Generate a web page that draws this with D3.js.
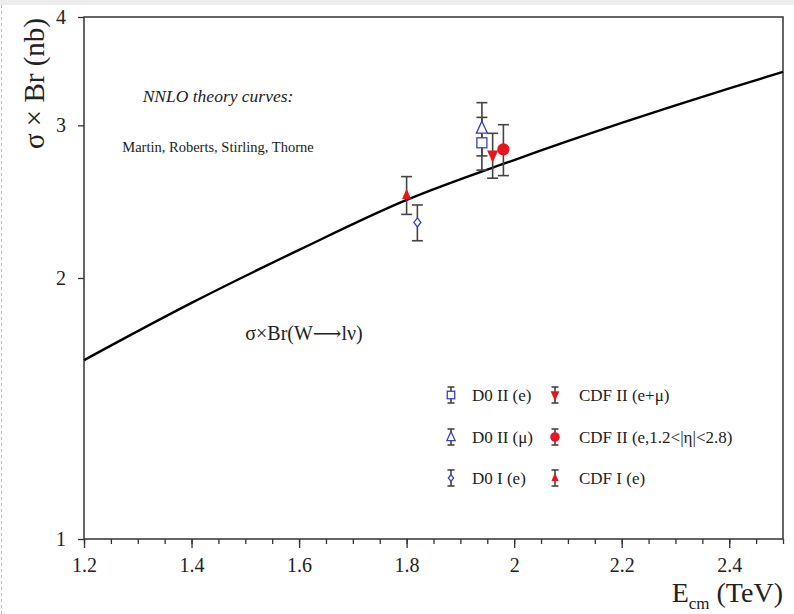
<!DOCTYPE html>
<html>
<head>
<meta charset="utf-8">
<script src="https://cdn.jsdelivr.net/npm/d3@7"></script>
<style>
  body { margin: 0; background: #fff; }
  svg text { font-family: "Liberation Serif", "DejaVu Serif", serif; fill: #222; }
</style>
</head>
<body>
<div id="chart"></div>
<script>
// theory curve (NNLO, MRST)
var curveEnergy = [1.2, 1.4, 1.6, 1.8, 2.0, 2.2, 2.4, 2.5];
var curveSigma  = [1.608, 1.872, 2.155, 2.461, 2.736, 3.019, 3.31, 3.458];

// measurements
var pointLabels = ['D0 II (e)', 'D0 II (\u03bc)', 'D0 I (e)', 'CDF II (e+\u03bc)', 'CDF II (e,1.2<|\u03b7|<2.8)', 'CDF I (e)'];
var pointEnergy = [1.94, 1.94, 1.82, 1.96, 1.98, 1.80];
var pointSigma  = [2.864, 2.976, 2.318, 2.772, 2.815, 2.493];
var pointError  = [0.20, 0.21, 0.11, 0.165, 0.19, 0.125];

var xMajorTicks = [1.2, 1.4, 1.6, 1.8, 2.0, 2.2, 2.4];
var yTicks = [1, 2, 3, 4];

var width = 794, height = 614;
var margin = {top: 17, right: 11, bottom: 75, left: 84};
var serif = '"Liberation Serif", "DejaVu Serif", serif';

var svg = d3.select('#chart').append('svg')
  .attr('width', width)
  .attr('height', height);

// page decorations
svg.append('rect').attr('x', 0).attr('y', 0).attr('width', width).attr('height', 5).attr('fill', '#ececec');
svg.append('line').attr('x1', 1.5).attr('x2', 1.5).attr('y1', 5).attr('y2', height)
  .attr('stroke', '#bbb').attr('stroke-dasharray', '3,3');

var x = d3.scaleLinear().domain([1.2, 2.5]).range([margin.left, width - margin.right]);
var y = d3.scaleLog().domain([1, 4]).range([height - margin.bottom, margin.top]);

// minor x ticks every 0.05
var xMinor = d3.range(0, 27).map(function(i) { return +(1.2 + i * 0.05).toFixed(2); });

svg.append('g')
  .attr('transform', 'translate(0,' + y(1) + ')')
  .call(d3.axisBottom(x).tickValues(xMinor).tickSize(5).tickFormat(''))
  .call(function(g) { g.select('.domain').remove(); })
  .selectAll('line').attr('stroke', '#333').attr('stroke-width', 1.3);

svg.append('g')
  .attr('class', 'xaxis')
  .attr('transform', 'translate(0,' + y(1) + ')')
  .call(d3.axisBottom(x).tickValues(xMajorTicks).tickSize(9).tickPadding(10)
    .tickFormat(function(d) { return String(+d.toFixed(2)); }))
  .attr('font-family', serif)
  .call(function(g) { g.select('.domain').remove(); })
  .call(function(g) {
    g.selectAll('line').attr('stroke', '#333').attr('stroke-width', 1.3);
    g.selectAll('text').style('font-size', '20px').style('font-family', serif).attr('fill', '#222');
  });

svg.append('g')
  .attr('transform', 'translate(' + margin.left + ',0)')
  .call(d3.axisLeft(y).tickValues(yTicks).tickSize(6).tickPadding(12).tickFormat(d3.format('d')))
  .attr('font-family', serif)
  .call(function(g) { g.select('.domain').remove(); })
  .call(function(g) {
    g.selectAll('line').attr('stroke', '#333').attr('stroke-width', 1.3);
    g.selectAll('text').style('font-size', '20px').style('font-family', serif).attr('fill', '#222');
  });

// frame
svg.append('rect')
  .attr('x', x(1.2)).attr('y', y(4))
  .attr('width', x(2.5) - x(1.2)).attr('height', y(1) - y(4))
  .attr('fill', 'none').attr('stroke', '#333').attr('stroke-width', 1.5);

// theory curve
var curveData = curveEnergy.map(function(e, i) { return {e: e, s: curveSigma[i]}; });
var line = d3.line()
  .x(function(d) { return x(d.e); })
  .y(function(d) { return y(d.s); })
  .curve(d3.curveMonotoneX);

svg.append('path')
  .datum(curveData)
  .attr('d', line)
  .attr('fill', 'none')
  .attr('stroke', '#000')
  .attr('stroke-width', 2.4);

// marker styles
var blue = '#3d3dbf', red = '#e8141e';
var markerStyle = [
  {shape: 'square',   color: blue, filled: false},
  {shape: 'triangle', color: blue, filled: false},
  {shape: 'diamond',  color: blue, filled: false},
  {shape: 'tridown',  color: red,  filled: true},
  {shape: 'circle',   color: red,  filled: true},
  {shape: 'triangle', color: red,  filled: true, small: true}
];

function drawMarker(g, st, cx, cy, scale) {
  scale = scale || 1;
  var m;
  if (st.shape === 'square') {
    var s = 10 * scale;
    m = g.append('rect').attr('x', cx - s / 2).attr('y', cy - s / 2).attr('width', s).attr('height', s);
  } else if (st.shape === 'triangle') {
    var h = (st.small ? 8 : 12) * scale, w = (st.small ? 7 : 11) * scale;
    m = g.append('path').attr('d', 'M' + cx + ',' + (cy - h * 0.6) + 'L' + (cx + w / 2) + ',' + (cy + h * 0.4) +
      'L' + (cx - w / 2) + ',' + (cy + h * 0.4) + 'Z');
  } else if (st.shape === 'tridown') {
    var h2 = 10 * scale, w2 = 9 * scale;
    m = g.append('path').attr('d', 'M' + cx + ',' + (cy + h2 * 0.6) + 'L' + (cx + w2 / 2) + ',' + (cy - h2 * 0.4) +
      'L' + (cx - w2 / 2) + ',' + (cy - h2 * 0.4) + 'Z');
  } else if (st.shape === 'diamond') {
    var dw = 3.5 * scale, dh = 4.5 * scale;
    m = g.append('path').attr('d', 'M' + cx + ',' + (cy - dh) + 'L' + (cx + dw) + ',' + cy +
      'L' + cx + ',' + (cy + dh) + 'L' + (cx - dw) + ',' + cy + 'Z');
  } else {
    m = g.append('circle').attr('cx', cx).attr('cy', cy).attr('r', 5.5 * scale);
  }
  m.attr('fill', st.filled ? st.color : '#fff')
   .attr('stroke', st.color)
   .attr('stroke-width', 1.3);
}

function drawErrorBar(g, cx, y0, y1, cap) {
  g.append('line').attr('x1', cx).attr('x2', cx).attr('y1', y0).attr('y2', y1)
    .attr('stroke', '#444').attr('stroke-width', 1.6);
  [y0, y1].forEach(function(yy) {
    g.append('line').attr('x1', cx - cap).attr('x2', cx + cap).attr('y1', yy).attr('y2', yy)
      .attr('stroke', '#444').attr('stroke-width', 1.6);
  });
}

var points = svg.append('g');
pointLabels.forEach(function(lbl, i) {
  var cx = x(pointEnergy[i]);
  drawErrorBar(points, cx, y(pointSigma[i] + pointError[i]), y(pointSigma[i] - pointError[i]), 5.5);
});
pointLabels.forEach(function(lbl, i) {
  drawMarker(points, markerStyle[i], x(pointEnergy[i]), y(pointSigma[i]));
});

// legend: two columns, three rows
var legendOrder = [[0, 3], [1, 4], [2, 5]];
var legendRows = [395, 437, 478];
var legendCols = [451, 555];
var legendTextGap = [21, 24];
var legend = svg.append('g');
legendOrder.forEach(function(row, r) {
  row.forEach(function(idx, c) {
    var lx = legendCols[c], ly = legendRows[r];
    drawErrorBar(legend, lx, ly - 8, ly + 8, 3.5);
    drawMarker(legend, markerStyle[idx], lx, ly, 0.75);
    legend.append('text')
      .attr('x', lx + legendTextGap[c]).attr('y', ly + 6)
      .style('font-size', '17px')
      .text(pointLabels[idx]);
  });
});

// annotations
svg.append('text')
  .attr('x', 218).attr('y', 102)
  .attr('text-anchor', 'middle')
  .style('font-size', '17.5px').style('font-style', 'italic')
  .text('NNLO theory curves:');

svg.append('text')
  .attr('x', 218).attr('y', 152)
  .attr('text-anchor', 'middle')
  .style('font-size', '14.5px')
  .text('Martin, Roberts, Stirling, Thorne');

svg.append('text')
  .attr('x', 304).attr('y', 340)
  .attr('text-anchor', 'middle')
  .style('font-size', '20px')
  .text('\u03c3\u00d7Br(W\u27f6l\u03bd)');

// axis titles
svg.append('text')
  .attr('transform', 'translate(44,18) rotate(-90)')
  .attr('text-anchor', 'end')
  .style('font-size', '29px')
  .text('\u03c3 \u00d7 Br (nb)');

var xt = svg.append('text')
  .attr('x', 783).attr('y', 602)
  .attr('text-anchor', 'end')
  .style('font-size', '28px');
xt.append('tspan').text('E');
xt.append('tspan').attr('dy', 7).style('font-size', '17px').text('cm');
xt.append('tspan').attr('dy', -7).text(' (TeV)');
</script>
</body>
</html>
